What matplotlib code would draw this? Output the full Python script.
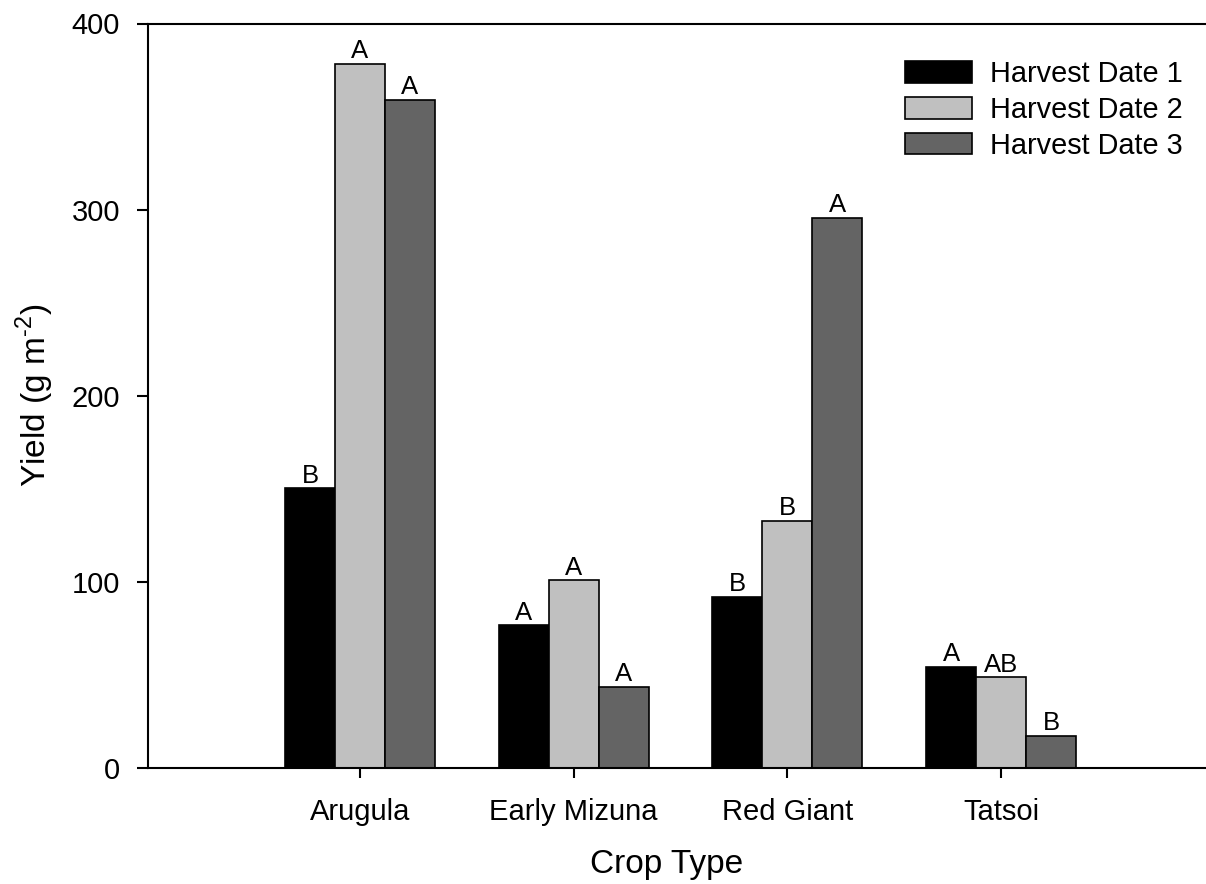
import matplotlib
matplotlib.use("Agg")
import matplotlib.pyplot as plt
from matplotlib.patches import Rectangle
import numpy as np

plt.rcParams['font.family'] = ['Liberation Sans', 'DejaVu Sans']
plt.rcParams['mathtext.fontset'] = 'custom'
plt.rcParams['mathtext.rm'] = 'Liberation Sans'

crops = ["Arugula", "Early Mizuna", "Red Giant", "Tatsoi"]
series_names = ["Harvest Date 1", "Harvest Date 2", "Harvest Date 3"]
date1 = [150.2, 76.5, 91.9, 54.1]
date2 = [378.2, 100.7, 132.8, 48.6]
date3 = [358.9, 43.5, 295.5, 17.2]
letters1 = ["B", "A", "B", "A"]
letters2 = ["A", "A", "B", "AB"]
letters3 = ["A", "A", "A", "B"]
y_ticks = [0, 100, 200, 300, 400]

values = [date1, date2, date3]
letters = [letters1, letters2, letters3]
colors = ["#000000", "#c0c0c0", "#646464"]

W, H = 1206, 884
fig = plt.figure(figsize=(W / 100, H / 100), dpi=100)
ax_left, ax_right, ax_top, ax_bot = 148, 1206, 23.5, 767.7
ax = fig.add_axes([ax_left / W, 1 - ax_bot / H, (ax_right - ax_left) / W, (ax_bot - ax_top) / H])

x = np.arange(len(crops))
bw = 0.234
for i, (vals, labs, col) in enumerate(zip(values, letters, colors)):
    pos = x + (i - 1) * bw
    ax.bar(pos, vals, width=bw, color=col, edgecolor="black", linewidth=1.2, zorder=2)
    for xp, v, t in zip(pos, vals, labs):
        ax.annotate(t, (xp, v), xytext=(0, 0.5), textcoords="offset points",
                    ha="center", va="bottom", fontsize=18.5)

ax.set_xlim(-0.992, 3.959)
ax.set_ylim(0, 400)
ax.set_yticks(y_ticks)
ax.set_xticks(x)
ax.set_xticklabels(crops)
ax.spines["right"].set_visible(False)
for s in ["left", "top", "bottom"]:
    ax.spines[s].set_linewidth(1.5)
ax.tick_params(axis="y", direction="out", length=8, width=1.5, pad=12, labelsize=21)
ax.tick_params(axis="x", direction="out", length=7.5, width=1.5, pad=14, labelsize=21)

ax.set_xlabel("Crop Type", fontsize=24)
ax.xaxis.set_label_coords(0.4905, -0.109)
ax.set_ylabel(r"Yield (g m$^{\text{-2}}$)", fontsize=24)
ax.yaxis.set_label_coords(-0.087, 0.5)

handles = [Rectangle((0, 0), 1, 1, facecolor=c, edgecolor="black", linewidth=1.2) for c in colors]
fig.legend(handles, series_names, loc="upper left",
           bbox_to_anchor=(905 / W, 1 - 60 / H), bbox_transform=fig.transFigure,
           frameon=False, fontsize=20.8, handlelength=2.32, handleheight=0.78,
           handletextpad=0.62, labelspacing=0.27, borderpad=0, borderaxespad=0)

fig.savefig("out.png", dpi=100)
